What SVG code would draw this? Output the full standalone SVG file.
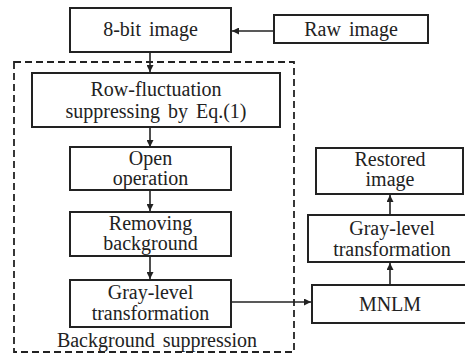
<svg xmlns="http://www.w3.org/2000/svg" width="465" height="356" viewBox="0 0 465 356">
<style>
.box{fill:#fff;stroke:#222;stroke-width:2}
.c{stroke:#222;stroke-width:1.6;fill:none}
</style>
<defs>
<marker id="ah" viewBox="0 0 10 10" refX="10" refY="5" markerWidth="7" markerHeight="7" markerUnits="userSpaceOnUse" orient="auto">
<path d="M0,0 L10,5 L0,10 z" fill="#222"/>
</marker>
</defs>
<rect width="465" height="356" fill="#fff"/>
<g font-family="Liberation Serif, Times New Roman, serif" font-size="20" fill="#222" text-anchor="middle" word-spacing="3">
<g id="bg-suppression">
<rect x="14" y="62" width="280" height="290" fill="none" stroke="#222" stroke-width="1.8" stroke-dasharray="7,4"/>
<text x="157" y="347">Background suppression</text>
</g>
<g id="connectors">
<line class="c" x1="274" y1="31" x2="232" y2="31" marker-end="url(#ah)"/>
<line class="c" x1="150" y1="52" x2="150" y2="72" marker-end="url(#ah)"/>
<line class="c" x1="150" y1="127" x2="150" y2="147" marker-end="url(#ah)"/>
<line class="c" x1="150" y1="190" x2="150" y2="211" marker-end="url(#ah)"/>
<line class="c" x1="150" y1="256" x2="150" y2="279" marker-end="url(#ah)"/>
<line class="c" x1="231" y1="302" x2="311" y2="302" marker-end="url(#ah)"/>
<line class="c" x1="390" y1="285" x2="390" y2="263" marker-end="url(#ah)"/>
<line class="c" x1="390" y1="215" x2="390" y2="195" marker-end="url(#ah)"/>
</g>
<g id="n-8bit">
<rect class="box" x="70" y="8" width="161" height="44"/>
<text x="150.5" y="36">8-bit image</text>
</g>
<g id="n-raw">
<rect class="box" x="274" y="15" width="154" height="28"/>
<text x="351" y="36">Raw image</text>
</g>
<g id="n-row">
<rect class="box" x="32" y="73" width="248" height="54"/>
<text x="156" y="96">Row-fluctuation</text>
<text x="156" y="118">suppressing by Eq.(1)</text>
</g>
<g id="n-open">
<rect class="box" x="70" y="147" width="161" height="43"/>
<text x="150.5" y="165">Open</text>
<text x="150.5" y="185">operation</text>
</g>
<g id="n-remove">
<rect class="box" x="70" y="212" width="161" height="44"/>
<text x="150.5" y="230">Removing</text>
<text x="150.5" y="250">background</text>
</g>
<g id="n-gray1">
<rect class="box" x="70" y="280" width="161" height="47"/>
<text x="150.5" y="299">Gray-level</text>
<text x="150.5" y="320">transformation</text>
</g>
<g id="n-mnlm">
<rect class="box" x="312" y="285" width="160" height="38"/>
<text x="390" y="311">MNLM</text>
</g>
<g id="n-gray2">
<rect class="box" x="308" y="215" width="170" height="47"/>
<text x="392" y="235">Gray-level</text>
<text x="392" y="256">transformation</text>
</g>
<g id="n-restored">
<rect class="box" x="316" y="148" width="147" height="46"/>
<text x="390" y="166">Restored</text>
<text x="390" y="186">image</text>
</g>
</g>
</svg>
